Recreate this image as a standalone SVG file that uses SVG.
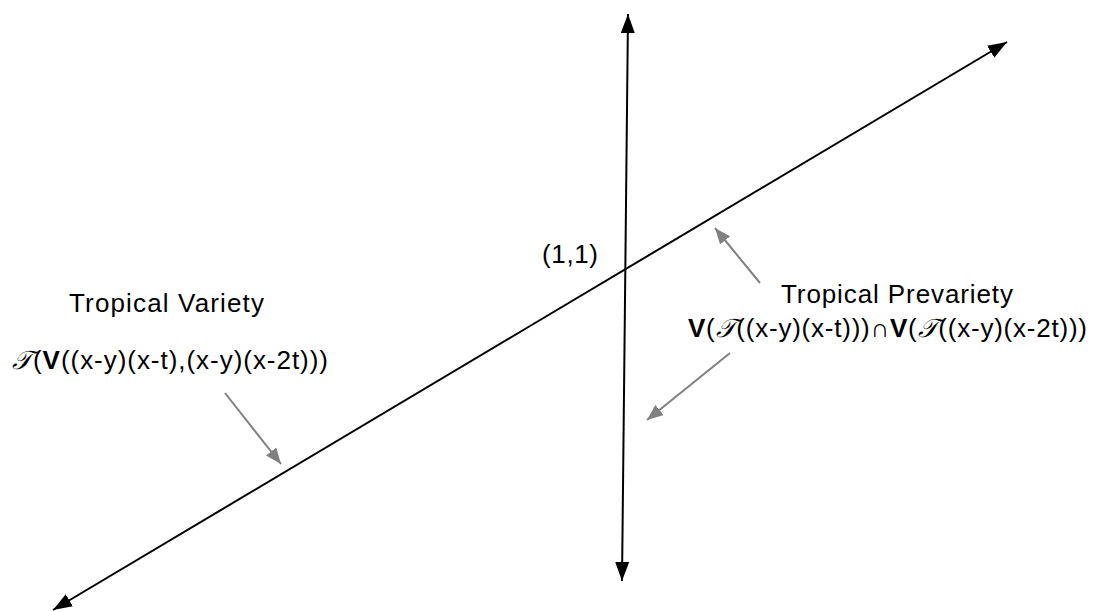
<svg xmlns="http://www.w3.org/2000/svg" width="1094" height="612" viewBox="0 0 1094 612">
<defs>
<style>
.ax{stroke:#000;stroke-width:2;fill:none}
.pt{stroke:#808080;stroke-width:2;fill:none}
text{font-family:"Liberation Sans",Arial,sans-serif;font-size:26px;fill:#000}
.b{font-weight:bold}
.s{font-family:"DejaVu Serif","Liberation Serif",serif;font-style:italic}
</style>
<marker id="ah" markerUnits="userSpaceOnUse" markerWidth="20" markerHeight="14" refX="19" refY="7" orient="auto">
<path d="M0,0 L19,7 L0,14 Z" fill="#000"/>
</marker>
<marker id="gh" markerUnits="userSpaceOnUse" markerWidth="17" markerHeight="13" refX="16" refY="6.5" orient="auto">
<path d="M0,0 L16,6.5 L0,13 Z" fill="#808080"/>
</marker>
</defs>
<g id="connectors">
<line class="ax" x1="625" y1="300" x2="628" y2="14" marker-end="url(#ah)"/>
<line class="ax" x1="625" y1="300" x2="622" y2="581" marker-end="url(#ah)"/>
<line class="ax" x1="530" y1="326" x2="1007" y2="42" marker-end="url(#ah)"/>
<line class="ax" x1="530" y1="326" x2="53" y2="610" marker-end="url(#ah)"/>
<line class="pt" x1="225" y1="393" x2="281" y2="464" marker-end="url(#gh)"/>
<line class="pt" x1="730" y1="353" x2="647" y2="420" marker-end="url(#gh)"/>
<line class="pt" x1="760" y1="283" x2="715" y2="228" marker-end="url(#gh)"/>
</g>
<g id="label-point"><text x="542" y="263" textLength="56" lengthAdjust="spacing">(1,1)</text></g>
<g id="label-variety">
<text x="69" y="312" textLength="195" lengthAdjust="spacing">Tropical Variety</text>
<text x="12" y="369" textLength="316" lengthAdjust="spacing"><tspan class="s">𝒯</tspan>(<tspan class="b">V</tspan>((x-y)(x-t),(x-y)(x-2t)))</text>
</g>
<g id="label-prevariety">
<text x="781" y="303" textLength="232" lengthAdjust="spacing">Tropical Prevariety</text>
<text x="688" y="337" textLength="399" lengthAdjust="spacing"><tspan class="b">V</tspan>(<tspan class="s">𝒯</tspan>((x-y)(x-t)))∩<tspan class="b">V</tspan>(<tspan class="s">𝒯</tspan>((x-y)(x-2t)))</text>
</g>
</svg>
